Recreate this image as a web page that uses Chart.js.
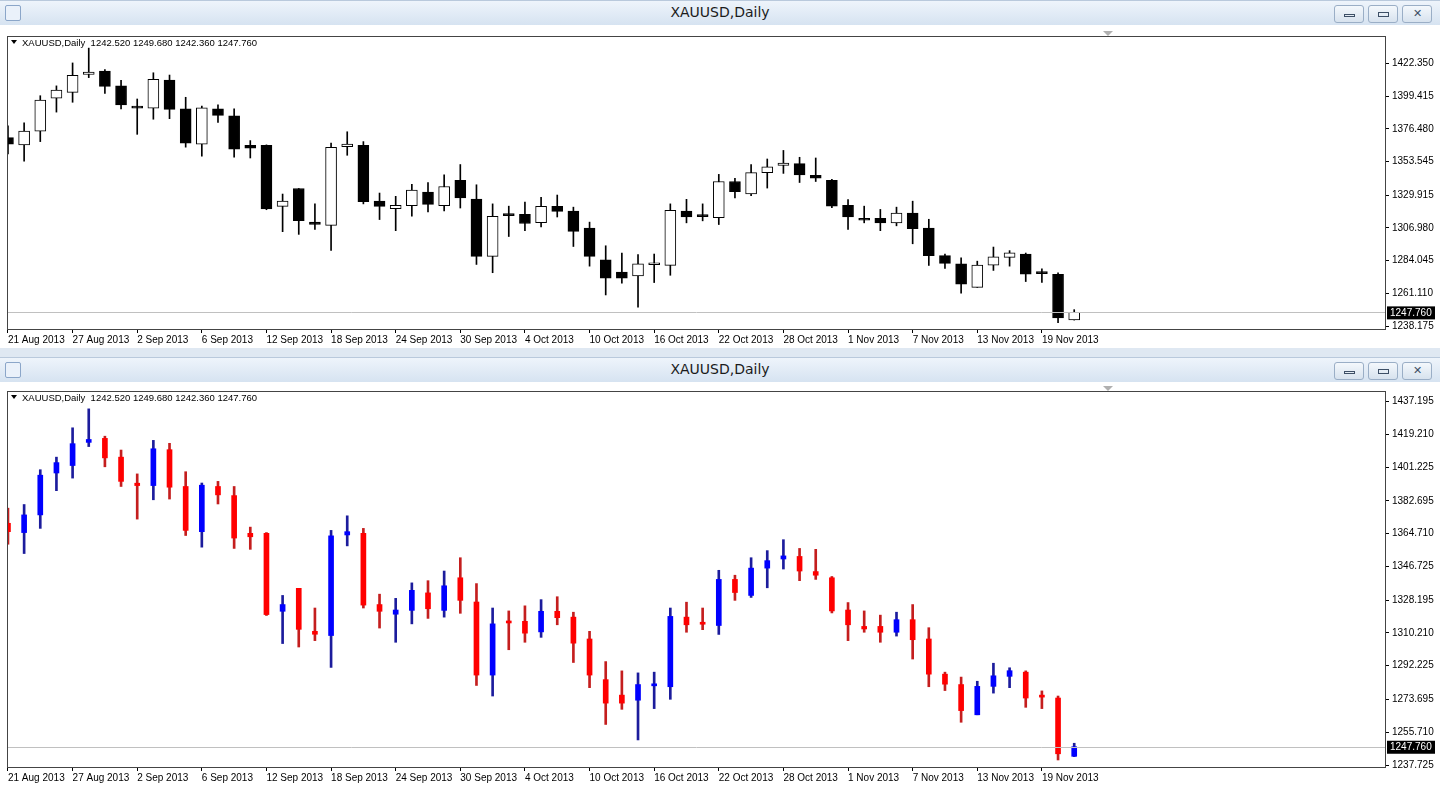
<!DOCTYPE html>
<html>
<head>
<meta charset="utf-8">
<script src="https://cdn.jsdelivr.net/npm/chart.js@4.4.1/dist/chart.umd.min.js"></script>
<style>
  body { margin: 0; width: 1440px; height: 790px; background: #dfe8f2; overflow: hidden; font-family: "DejaVu Sans", sans-serif; }
  .win { position: absolute; left: 0; width: 1440px; background: #fff; }
  .bar { position: absolute; left: 0; width: 1440px; height: 25px; background: linear-gradient(#eef4fb, #d6e3f1); border-top: 1px solid #b9c9dc; box-sizing: border-box; }
  .bar .t { position: absolute; left: 0; width: 1440px; top: 3px; text-align: center; font-size: 14px; color: #1b1b1b; }
  .bar .ico { position: absolute; left: 5px; top: 4px; width: 14px; height: 14px; border: 1px solid #8ba6c9; border-radius: 2px; background: #eaf1fa; }
  .btn { position: absolute; top: 4px; width: 28px; height: 16px; border: 1px solid #9aaec6; border-radius: 3px; background: linear-gradient(#f4f8fc, #d7e2ee); }
  .btn span { position: absolute; left: 9px; top: 6px; width: 9px; height: 3px; border: 1px solid #3d4f66; }
  canvas { position: absolute; left: 0; }
  .mark { position: absolute; width: 0; height: 0; border-left: 5px solid transparent; border-right: 5px solid transparent; border-top: 5px solid #b0b0b0; }
</style>
</head>
<body>
<div class="bar" style="top:0"><div class="ico"></div><div class="t">XAUUSD,Daily</div>
  <div class="btn" style="left:1334px"><span style="height:1px;top:8px"></span></div>
  <div class="btn" style="left:1368px"><span></span></div>
  <div class="btn" style="left:1402px"><span style="border:none;font-size:11px;top:1px;left:10px;color:#3d4f66">✕</span></div>
</div>
<div class="win" style="top:25px;height:323px"></div>
<canvas id="chart1" width="1440" height="321" style="top:27px"></canvas>
<div class="mark" style="left:1103px;top:31px"></div>

<div class="bar" style="top:357px"><div class="ico"></div><div class="t">XAUUSD,Daily</div>
  <div class="btn" style="left:1334px"><span style="height:1px;top:8px"></span></div>
  <div class="btn" style="left:1368px"><span></span></div>
  <div class="btn" style="left:1402px"><span style="border:none;font-size:11px;top:1px;left:10px;color:#3d4f66">✕</span></div>
</div>
<div class="win" style="top:382px;height:408px"></div>
<canvas id="chart2" width="1440" height="408" style="top:382px"></canvas>
<div class="mark" style="left:1103px;top:386px"></div>

<script>
var dateLabels = ['21 Aug 2013','27 Aug 2013','2 Sep 2013','6 Sep 2013','12 Sep 2013','18 Sep 2013','24 Sep 2013','30 Sep 2013',
  '4 Oct 2013','10 Oct 2013','16 Oct 2013','22 Oct 2013','28 Oct 2013','1 Nov 2013','7 Nov 2013','13 Nov 2013','19 Nov 2013'];

var opens  = [1370.4,1365.3,1375.0,1398.0,1402.1,1414.8,1417.0,1406.7,1392.4,1391.1,1410.8,1390.6,1365.8,1390.6,1385.6,1364.9,
  1364.9,1322.1,1334.7,1311.1,1308.8,1364.0,1364.9,1325.8,1320.5,1322.6,1332.2,1322.6,1340.5,1327.2,1287.1,1315.9,
  1316.6,1310.8,1322.1,1318.9,1306.9,1284.6,1276.1,1273.3,1281.2,1280.7,1318.9,1315.2,1314.3,1339.6,1330.8,1345.8,
  1350.8,1352.2,1343.9,1340.5,1322.8,1313.8,1313.8,1310.6,1317.5,1306.9,1287.6,1281.9,1265.3,1280.9,1286.4,1288.7,
  1275.2,1274.5,1242.52];
var highs  = [1378.7,1380.7,1399.8,1406.7,1422.8,1433.2,1418.2,1410.6,1397.5,1415.9,1414.3,1398.7,1392.5,1393.4,1390.6,1368.3,
  1365.3,1330.8,1334.7,1323.9,1366.5,1374.5,1367.6,1331.5,1329.2,1337.7,1338.9,1344.2,1351.5,1337.3,1323.9,1322.3,
  1325.1,1328.5,1330.1,1321.6,1311.1,1294.5,1289.4,1288.3,1288.7,1323.9,1327.1,1323.9,1344.6,1341.9,1351.5,1355.4,
  1361.4,1356.6,1356.1,1341.2,1326.9,1322.3,1320.0,1321.6,1325.8,1313.1,1288.7,1286.0,1283.7,1293.6,1291.1,1289.4,
  1278.4,1275.6,1249.68];
var lows   = [1358.9,1353.8,1367.6,1388.3,1395.2,1412.5,1401.4,1390.6,1372.7,1383.3,1383.7,1363.7,1357.3,1381.0,1356.6,1356.1,
  1319.8,1304.4,1302.5,1306.0,1291.3,1358.0,1323.9,1312.9,1305.1,1315.2,1318.2,1318.9,1321.0,1281.4,1275.6,1301.0,
  1305.1,1307.8,1314.7,1294.0,1280.2,1260.0,1268.3,1251.5,1268.7,1273.8,1310.6,1312.0,1309.4,1328.1,1329.7,1335.0,
  1345.3,1338.9,1339.6,1321.2,1306.0,1310.6,1305.1,1308.5,1295.9,1280.7,1278.6,1261.2,1265.3,1277.2,1280.2,1269.4,
  1268.7,1240.5,1242.36];
var closes = [1365.8,1375.0,1396.8,1403.7,1414.1,1416.4,1406.3,1393.4,1391.1,1411.3,1390.2,1366.5,1391.3,1386.0,1362.3,1363.0,
  1320.3,1325.8,1312.2,1309.5,1363.5,1365.8,1325.5,1322.1,1322.8,1333.6,1323.5,1336.1,1328.1,1287.1,1315.2,1315.7,
  1310.1,1322.1,1318.6,1304.6,1287.1,1271.7,1271.7,1281.9,1281.6,1319.3,1314.7,1315.0,1339.6,1332.4,1345.8,1349.9,
  1352.5,1344.2,1341.9,1322.3,1314.7,1312.4,1310.6,1317.5,1306.5,1287.6,1282.1,1267.6,1280.9,1286.7,1289.5,1274.5,
  1275.0,1243.9,1247.76];

var topTicks = [1422.350,1399.415,1376.480,1353.545,1329.915,1306.980,1284.045,1261.110,1238.175];
var bottomTicks = [1437.195,1419.210,1401.225,1382.695,1364.710,1346.725,1328.195,1310.210,1292.225,1273.695,1255.710,1237.725];

var lastClose = closes[closes.length - 1];
var headerText = 'XAUUSD,Daily  ' + opens[opens.length-1].toFixed(3) + ' ' + highs[highs.length-1].toFixed(3) + ' ' +
  lows[lows.length-1].toFixed(3) + ' ' + lastClose.toFixed(3);

var fontName = '"Liberation Sans", Arial, sans-serif';

var frame = {
  id: 'frame',
  afterDraw: function(chart) {
    var c = chart.ctx, a = chart.chartArea;
    var y = chart.scales.y.getPixelForValue(lastClose);
    c.save();
    c.strokeStyle = '#c0c0c0'; c.lineWidth = 1;
    c.beginPath(); c.moveTo(a.left, Math.round(y) + 0.5); c.lineTo(a.right, Math.round(y) + 0.5); c.stroke();
    c.strokeStyle = '#444';
    c.strokeRect(a.left + 0.5, a.top + 0.5, a.right - a.left - 1, a.bottom - a.top - 1);
    c.fillStyle = '#000';
    c.fillRect(a.right + 1, y - 6, 48, 13);
    c.fillStyle = '#fff'; c.font = '10px ' + fontName; c.textBaseline = 'middle'; c.textAlign = 'left';
    c.fillText(lastClose.toFixed(3), a.right + 4, y + 0.5);
    c.fillStyle = '#000'; c.font = '9.5px ' + fontName;
    c.beginPath(); c.moveTo(a.left + 4, a.top + 4); c.lineTo(a.left + 10, a.top + 4); c.lineTo(a.left + 7, a.top + 8); c.fill();
    c.fillText(headerText, a.left + 15, a.top + 7);
    c.restore();
  }
};

function makeChart(id, ticks, yMin, yMax, xHeight, upBody, downBody, upWick, downWick, bodyW, wickW, hollow) {
  var bodies = [], wicks = [], bodyColors = [], bodyBorders = [], wickColors = [];
  for (var i = 0; i < opens.length; i++) {
    var up = closes[i] >= opens[i];
    bodies.push({ x: i, y: [opens[i], closes[i]] });
    wicks.push({ x: i, y: [lows[i], highs[i]] });
    bodyColors.push(up ? upBody : downBody);
    bodyBorders.push(hollow ? '#000' : (up ? upBody : downBody));
    wickColors.push(up ? upWick : downWick);
  }
  return new Chart(document.getElementById(id), {
    type: 'bar',
    data: {
      datasets: [{
        data: bodies, backgroundColor: bodyColors, borderColor: bodyBorders, borderWidth: hollow ? 1 : 0,
        borderSkipped: false, barThickness: bodyW, grouped: false, order: 1, minBarLength: 2
      }, {
        data: wicks, backgroundColor: wickColors, borderWidth: 0, barThickness: wickW, grouped: false, order: 2
      }]
    },
    options: {
      responsive: false, animation: false,
      layout: { padding: { left: 7, top: 4 } },
      plugins: { legend: { display: false }, tooltip: { enabled: false } },
      scales: {
        x: {
          type: 'linear', min: -0.06, max: 85.3, offset: false,
          afterBuildTicks: function(s) { s.ticks = dateLabels.map(function(d, k) { return { value: k * 4 }; }); },
          afterFit: function(s) { s.height = xHeight; },
          grid: { drawOnChartArea: false, tickLength: 3, color: '#000', offset: false },
          border: { display: false },
          ticks: { align: 'start', padding: 1, maxRotation: 0, autoSkip: false, color: '#000',
            font: { family: fontName, size: 10 },
            callback: function(v) { return dateLabels[v / 4]; } }
        },
        y: {
          position: 'right', min: yMin, max: yMax,
          afterBuildTicks: function(s) { s.ticks = ticks.map(function(v) { return { value: v }; }); },
          afterFit: function(s) { s.width = 54; },
          grid: { drawOnChartArea: false, tickLength: 3, color: '#000' },
          border: { display: false },
          ticks: { padding: 3, color: '#000', font: { family: fontName, size: 10 },
            callback: function(v) { return v.toFixed(3); } }
        }
      }
    },
    plugins: [frame]
  });
}

window.onload = function() {
  makeChart('chart1', topTicks, 1235.4, 1441.7, 18, '#ffffff', '#000000', '#000000', '#000000', 11, 1, true);
  makeChart('chart2', bottomTicks, 1236.1, 1443.0, 22, '#0000ff', '#ff0000', '#1c1c9c', '#c41e1e', 5, 2, false);
};
</script>
</body>
</html>
